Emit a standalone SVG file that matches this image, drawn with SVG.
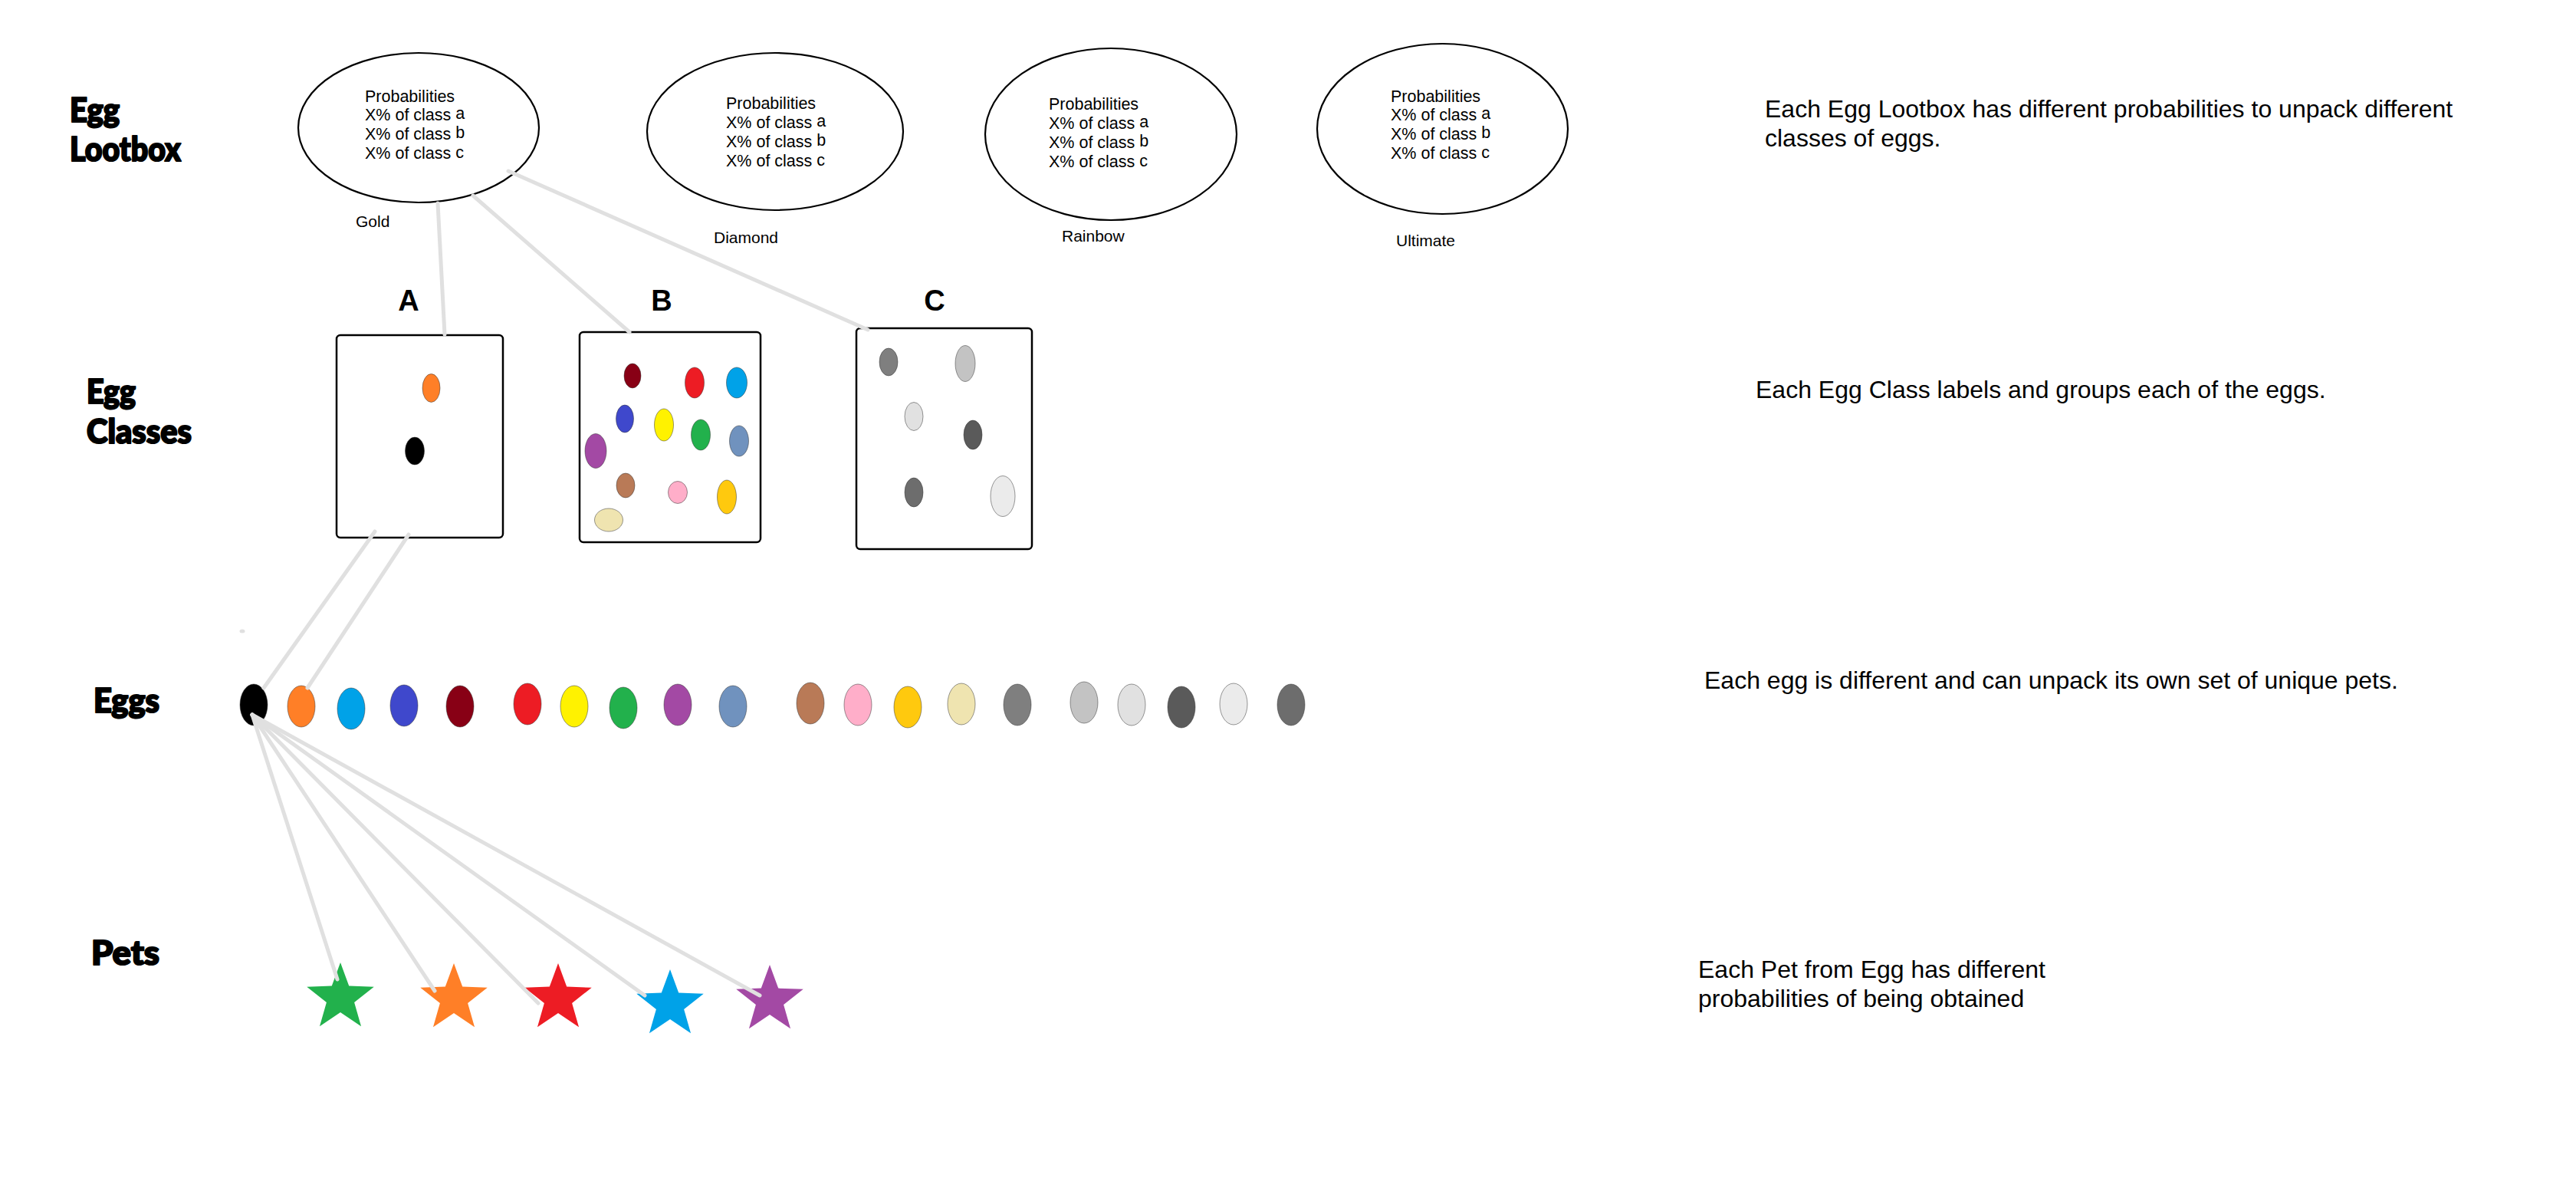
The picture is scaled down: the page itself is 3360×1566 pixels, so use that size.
<svg xmlns="http://www.w3.org/2000/svg" width="3360" height="1566" viewBox="0 0 3360 1566">
<style>
.bg{fill:#ffffff}
.title{font-family:"Lato","Liberation Sans",sans-serif;font-weight:900;font-size:44px;fill:#000;stroke:#000;stroke-width:2.2;stroke-linejoin:round}
.lb{fill:#fff;stroke:#000;stroke-width:2.2}
.pt{font-family:"Liberation Sans",Arial,sans-serif;font-size:21.5px;fill:#000}
.lbl{font-family:"Liberation Sans",Arial,sans-serif;font-size:21px;fill:#000}
.desc{font-family:"Liberation Sans",Arial,sans-serif;font-size:32px;fill:#000}
.cls{font-family:"Liberation Sans",Arial,sans-serif;font-weight:bold;font-size:38px;fill:#000}
.box{fill:#fff;stroke:#000;stroke-width:2.5}
.egg{stroke:#333;stroke-width:0.5}
.conn{stroke:#e0e0e0;stroke-width:5;stroke-linecap:round;fill:none}
</style>
<defs>
<path id="star" d="M0,-46 L11.2,-15.4 L43.75,-14.21 L18.1,5.9 L27.04,37.21 L0,19 L-27.04,37.21 L-18.1,5.9 L-43.75,-14.21 L-11.2,-15.4 Z"/>
</defs>
<rect class="bg" x="0" y="0" width="3360" height="1566"/>

<g id="row-labels">
<text class="title" x="91" y="159" textLength="65" lengthAdjust="spacingAndGlyphs">Egg</text>
<text class="title" x="91" y="210" textLength="145" lengthAdjust="spacingAndGlyphs">Lootbox</text>
<text class="title" x="113" y="526" textLength="64" lengthAdjust="spacingAndGlyphs">Egg</text>
<text class="title" x="113" y="578" textLength="137" lengthAdjust="spacingAndGlyphs">Classes</text>
<text class="title" x="122" y="929" textLength="86" lengthAdjust="spacingAndGlyphs">Eggs</text>
<text class="title" x="119" y="1258" textLength="89" lengthAdjust="spacingAndGlyphs">Pets</text>
</g>

<g id="lootbox-gold">
<ellipse class="lb" cx="546" cy="166.5" rx="157" ry="97.5"/>
<text class="pt" x="476" y="133">Probabilities</text>
<text class="pt" x="476" y="157">X% of class <tspan dy="-2">a</tspan></text>
<text class="pt" x="476" y="182">X% of class <tspan dy="-2">b</tspan></text>
<text class="pt" x="476" y="207">X% of class <tspan dy="-1">c</tspan></text>
<text class="lbl" x="464" y="296">Gold</text>
</g>
<g id="lootbox-diamond">
<ellipse class="lb" cx="1011" cy="171.5" rx="167" ry="102.5"/>
<text class="pt" x="947" y="142">Probabilities</text>
<text class="pt" x="947" y="167">X% of class <tspan dy="-2">a</tspan></text>
<text class="pt" x="947" y="192">X% of class <tspan dy="-2">b</tspan></text>
<text class="pt" x="947" y="217">X% of class <tspan dy="-1">c</tspan></text>
<text class="lbl" x="931" y="317">Diamond</text>
</g>
<g id="lootbox-rainbow">
<ellipse class="lb" cx="1449" cy="175" rx="164" ry="112"/>
<text class="pt" x="1368" y="143">Probabilities</text>
<text class="pt" x="1368" y="168">X% of class <tspan dy="-2">a</tspan></text>
<text class="pt" x="1368" y="193">X% of class <tspan dy="-2">b</tspan></text>
<text class="pt" x="1368" y="218">X% of class <tspan dy="-1">c</tspan></text>
<text class="lbl" x="1385" y="315">Rainbow</text>
</g>
<g id="lootbox-ultimate">
<ellipse class="lb" cx="1881.5" cy="168" rx="163.5" ry="111"/>
<text class="pt" x="1814" y="133">Probabilities</text>
<text class="pt" x="1814" y="157">X% of class <tspan dy="-2">a</tspan></text>
<text class="pt" x="1814" y="182">X% of class <tspan dy="-2">b</tspan></text>
<text class="pt" x="1814" y="207">X% of class <tspan dy="-1">c</tspan></text>
<text class="lbl" x="1821" y="321">Ultimate</text>
</g>

<g id="class-a">
<text class="cls" x="533" y="405" text-anchor="middle">A</text>
<rect class="box" x="439" y="437" width="217" height="264" rx="5"/>
<ellipse class="egg" cx="562.5" cy="506" rx="11.5" ry="18.5" fill="#ff7f27"/>
<ellipse class="egg" cx="541" cy="588" rx="12.5" ry="18" fill="#000000"/>
</g>
<g id="class-b">
<text class="cls" x="863" y="405" text-anchor="middle">B</text>
<rect class="box" x="756" y="433" width="236" height="274" rx="5"/>
<ellipse class="egg" cx="825" cy="490" rx="11" ry="16" fill="#880015"/>
<ellipse class="egg" cx="906" cy="499" rx="12.5" ry="20" fill="#ed1c24"/>
<ellipse class="egg" cx="961" cy="499" rx="13.5" ry="20" fill="#00a2e8"/>
<ellipse class="egg" cx="815" cy="546" rx="11.5" ry="18" fill="#3f48cc"/>
<ellipse class="egg" cx="866" cy="554" rx="12.5" ry="21" fill="#fff200"/>
<ellipse class="egg" cx="914" cy="567" rx="12.5" ry="20" fill="#22b14c"/>
<ellipse class="egg" cx="964" cy="575" rx="12.5" ry="20" fill="#7092be"/>
<ellipse class="egg" cx="777" cy="588" rx="14" ry="22.5" fill="#a349a4"/>
<ellipse class="egg" cx="816" cy="633" rx="12" ry="16" fill="#b97a57"/>
<ellipse class="egg" cx="884" cy="642" rx="12.5" ry="14.5" fill="#ffaec9"/>
<ellipse class="egg" cx="948" cy="648" rx="12.5" ry="22" fill="#ffc90e"/>
<ellipse class="egg" cx="794" cy="678" rx="18.5" ry="15" fill="#efe4b0"/>
</g>
<g id="class-c">
<text class="cls" x="1219" y="405" text-anchor="middle">C</text>
<rect class="box" x="1117" y="428" width="229" height="288" rx="5"/>
<ellipse class="egg" cx="1159" cy="472" rx="12" ry="18" fill="#7f7f7f"/>
<ellipse class="egg" cx="1259" cy="474" rx="13" ry="23.5" fill="#c3c3c3"/>
<ellipse class="egg" cx="1192" cy="543" rx="12" ry="18.5" fill="#e1e1e1"/>
<ellipse class="egg" cx="1269" cy="567" rx="12" ry="19" fill="#5a5a5a"/>
<ellipse class="egg" cx="1192" cy="642" rx="12" ry="19" fill="#6d6d6d"/>
<ellipse class="egg" cx="1308" cy="647" rx="16" ry="26.5" fill="#ebebeb"/>
</g>

<g id="eggs">
<ellipse cx="316" cy="823" rx="3.5" ry="2.5" fill="#e0e0e0"/>
<ellipse class="egg" cx="331" cy="919" rx="18" ry="27" fill="#000000"/>
<ellipse class="egg" cx="393" cy="921" rx="18" ry="27" fill="#ff7f27"/>
<ellipse class="egg" cx="458" cy="924" rx="18" ry="27" fill="#00a2e8"/>
<ellipse class="egg" cx="527" cy="920" rx="18" ry="27" fill="#3f48cc"/>
<ellipse class="egg" cx="600" cy="921" rx="18" ry="27" fill="#880015"/>
<ellipse class="egg" cx="688" cy="918" rx="18" ry="27" fill="#ed1c24"/>
<ellipse class="egg" cx="749" cy="921" rx="18" ry="27" fill="#fff200"/>
<ellipse class="egg" cx="813" cy="923" rx="18" ry="27" fill="#22b14c"/>
<ellipse class="egg" cx="884" cy="919" rx="18" ry="27" fill="#a349a4"/>
<ellipse class="egg" cx="956" cy="921" rx="18" ry="27" fill="#7092be"/>
<ellipse class="egg" cx="1057" cy="917" rx="18" ry="27" fill="#b97a57"/>
<ellipse class="egg" cx="1119" cy="919" rx="18" ry="27" fill="#ffaec9"/>
<ellipse class="egg" cx="1184" cy="922" rx="18" ry="27" fill="#ffc90e"/>
<ellipse class="egg" cx="1254" cy="918" rx="18" ry="27" fill="#efe4b0"/>
<ellipse class="egg" cx="1327" cy="919" rx="18" ry="27" fill="#7f7f7f"/>
<ellipse class="egg" cx="1414" cy="916" rx="18" ry="27" fill="#c3c3c3"/>
<ellipse class="egg" cx="1476" cy="919" rx="18" ry="27" fill="#e1e1e1"/>
<ellipse class="egg" cx="1541" cy="922" rx="18" ry="27" fill="#5a5a5a"/>
<ellipse class="egg" cx="1609" cy="918" rx="18" ry="27" fill="#ebebeb"/>
<ellipse class="egg" cx="1684" cy="919" rx="18" ry="27" fill="#6d6d6d"/>
</g>

<g id="pets">
<use href="#star" x="444" y="1301" fill="#22b14c"/>
<use href="#star" x="592" y="1302" fill="#ff7f27"/>
<use href="#star" x="728" y="1302" fill="#ed1c24"/>
<use href="#star" x="874" y="1310" fill="#00a2e8"/>
<use href="#star" x="1004" y="1304" fill="#a349a4"/>
</g>

<g id="descriptions">
<text class="desc" x="2302" y="153">Each Egg Lootbox has different probabilities to unpack different</text>
<text class="desc" x="2302" y="191">classes of eggs.</text>
<text class="desc" x="2290" y="519">Each Egg Class labels and groups each of the eggs.</text>
<text class="desc" x="2223" y="898">Each egg is different and can unpack its own set of unique pets.</text>
<text class="desc" x="2215" y="1275">Each Pet from Egg has different</text>
<text class="desc" x="2215" y="1313">probabilities of being obtained</text>
</g>

<g id="connectors">
<line class="conn" x1="571" y1="265" x2="580" y2="436"/>
<line class="conn" x1="617" y1="255" x2="821" y2="433"/>
<line class="conn" x1="663" y1="223" x2="1132" y2="430"/>
<line class="conn" x1="489" y1="693" x2="344" y2="897"/>
<line class="conn" x1="533" y1="697" x2="401" y2="897"/>
<line class="conn" x1="329" y1="932" x2="440" y2="1277"/>
<line class="conn" x1="329" y1="932" x2="567" y2="1292"/>
<line class="conn" x1="329" y1="932" x2="702" y2="1308"/>
<line class="conn" x1="329" y1="932" x2="841" y2="1298"/>
<line class="conn" x1="329" y1="932" x2="991" y2="1298"/>
</g>
</svg>
